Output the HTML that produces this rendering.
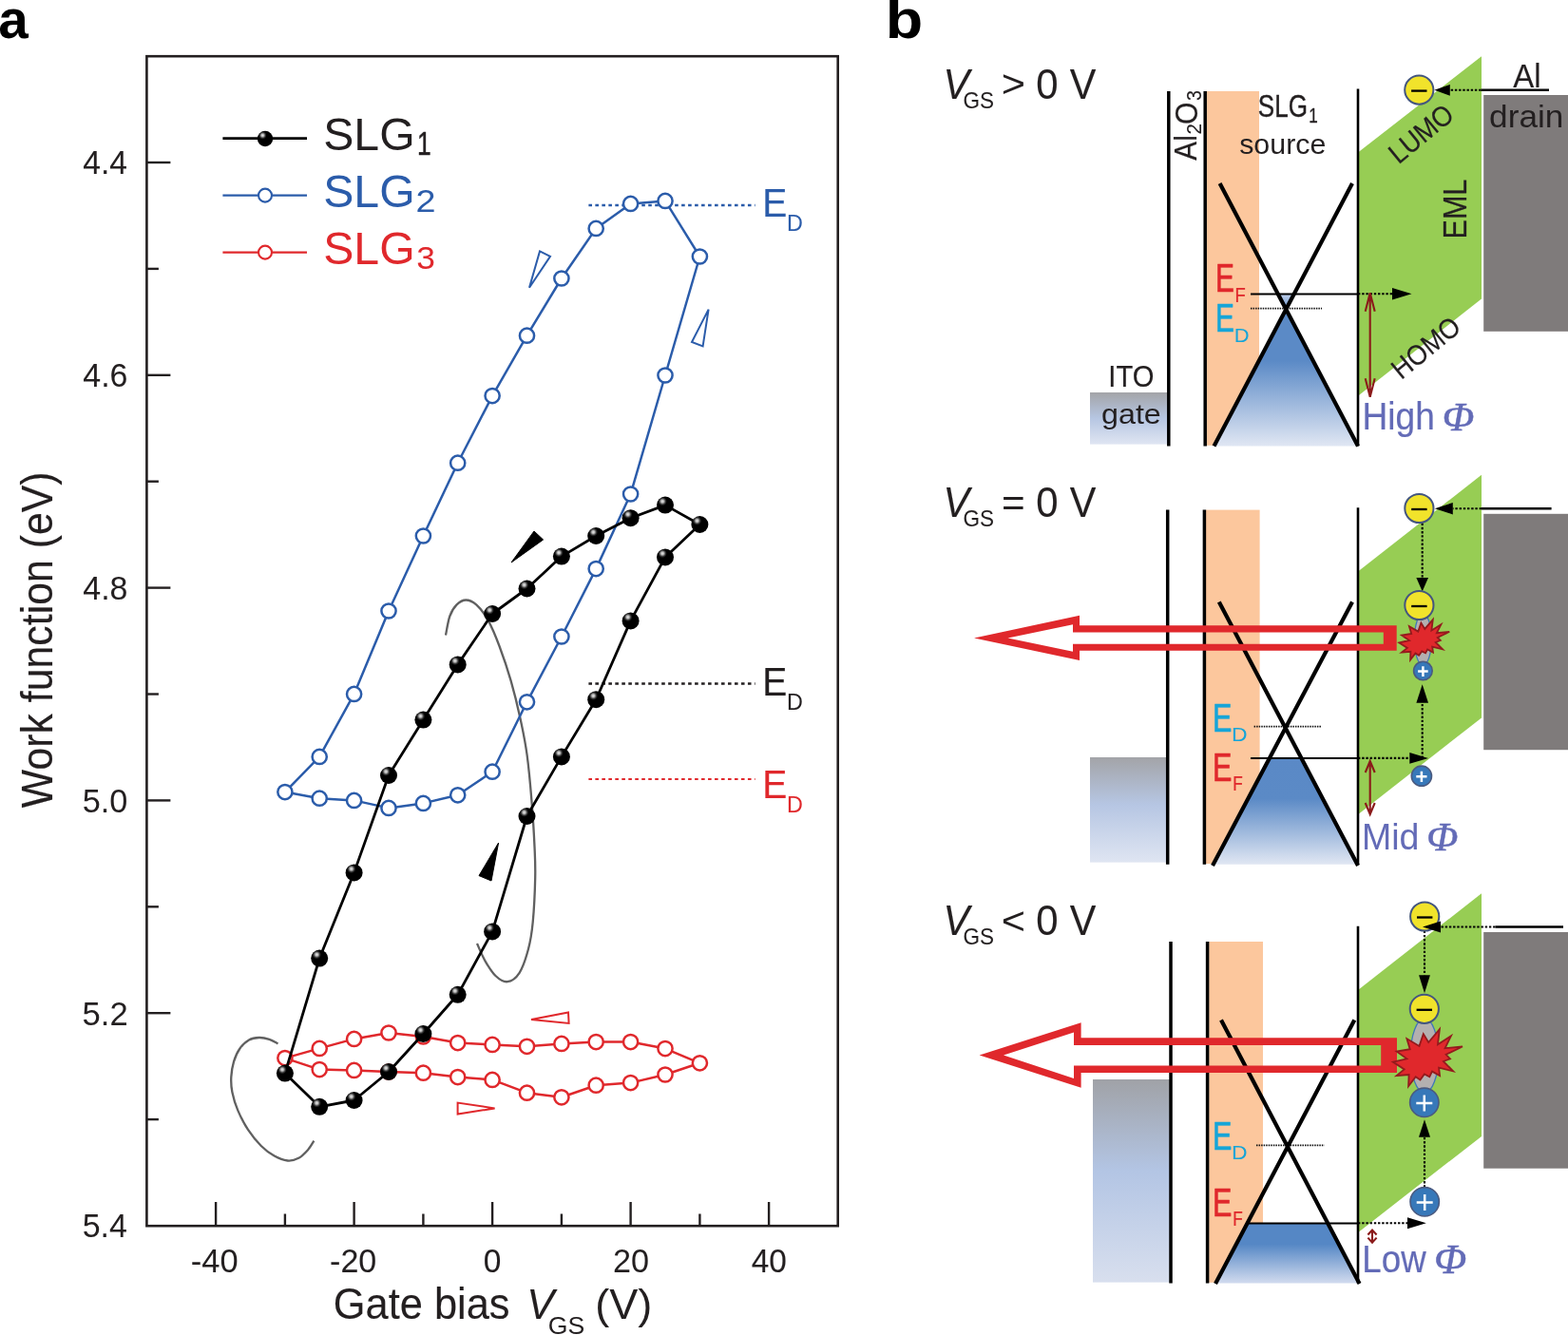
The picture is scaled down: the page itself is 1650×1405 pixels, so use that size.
<!DOCTYPE html>
<html lang="en">
<head>
<meta charset="utf-8">
<title>Work function vs gate bias and band diagrams</title>
<style>
html,body{margin:0;padding:0;background:#fff;}
body{width:1650px;height:1405px;overflow:hidden;}
svg{display:block;}
svg text{font-family:"Liberation Sans",sans-serif;}
svg text.ser{font-family:"Liberation Serif",serif;}
</style>
</head>
<body>
<svg width="1650" height="1405" viewBox="0 0 1650 1405">
<defs>
<radialGradient id="ball" cx="0.34" cy="0.28" r="0.26" fx="0.34" fy="0.28">
<stop offset="0" stop-color="#e6e6e6"/><stop offset="0.3" stop-color="#bdbdbd"/><stop offset="0.7" stop-color="#333"/><stop offset="1" stop-color="#000"/>
</radialGradient>
<linearGradient id="ito1" x1="0" y1="0" x2="0" y2="1"><stop offset="0" stop-color="#a3a4a8"/><stop offset="0.5" stop-color="#b6c6e2"/><stop offset="1" stop-color="#dfe5f2"/></linearGradient>
<linearGradient id="ito2" x1="0" y1="0" x2="0" y2="1"><stop offset="0" stop-color="#a3a4a8"/><stop offset="0.45" stop-color="#b6c6e3"/><stop offset="1" stop-color="#dfe5f2"/></linearGradient>
<linearGradient id="ito3" x1="0" y1="0" x2="0" y2="1"><stop offset="0" stop-color="#a0a2a7"/><stop offset="0.45" stop-color="#b3c5e4"/><stop offset="1" stop-color="#d8dfee"/></linearGradient>
<linearGradient id="cone1" gradientUnits="userSpaceOnUse" x1="0" y1="309" x2="0" y2="470"><stop offset="0" stop-color="#c3d2ec"/><stop offset="0.12" stop-color="#5b8ac6"/><stop offset="0.44" stop-color="#5b8ac6"/><stop offset="1" stop-color="#e1e7f3"/></linearGradient>
<linearGradient id="cone2" gradientUnits="userSpaceOnUse" x1="0" y1="798" x2="0" y2="910"><stop offset="0" stop-color="#5a89c6"/><stop offset="0.38" stop-color="#5b8ac6"/><stop offset="1" stop-color="#e1e7f3"/></linearGradient>
<linearGradient id="cone3" gradientUnits="userSpaceOnUse" x1="0" y1="1287" x2="0" y2="1351"><stop offset="0" stop-color="#5587c5"/><stop offset="0.35" stop-color="#5587c5"/><stop offset="1" stop-color="#d3dcef"/></linearGradient>
</defs>
<rect width="1650" height="1405" fill="#fff"/>
<g id="panel-a">
<path d="M469.0,668.6 C469.7,665.2 471.4,653.9 473.3,648.5 C475.2,643.1 477.8,639.2 480.6,636.4 C483.4,633.6 486.9,631.5 490.3,631.5 C493.7,631.5 497.4,633.0 501.2,636.4 C505.0,639.8 509.2,644.8 513.3,652.1 C517.3,659.4 521.5,669.3 525.5,680.0 C529.5,690.7 534.0,703.9 537.6,716.4 C541.2,728.9 544.5,742.3 547.3,755.2 C550.1,768.1 552.5,779.4 554.5,793.9 C556.5,808.4 558.1,826.2 559.4,842.4 C560.7,858.6 561.9,877.4 562.5,890.9 C563.1,904.4 563.5,910.2 563.2,923.5 C562.9,936.8 561.9,958.0 560.7,970.5 C559.5,983.0 558.4,989.8 556.0,998.7 C553.6,1007.6 550.3,1018.0 546.6,1023.8 C542.9,1029.5 538.2,1032.7 534.0,1033.2 C529.8,1033.7 525.4,1030.7 521.5,1027.0 C517.6,1023.4 513.8,1017.0 510.5,1011.3 C507.2,1005.6 503.4,996.0 502.0,993.0" fill="none" stroke="#606060" stroke-width="2.3"/>
<path d="M292.5,1098.4 C291.0,1097.7 286.7,1095.0 283.4,1093.9 C280.1,1092.8 276.3,1091.9 272.7,1092.0 C269.1,1092.1 265.4,1092.5 262.0,1094.4 C258.6,1096.3 255.1,1099.7 252.4,1103.5 C249.7,1107.3 247.5,1112.4 246.0,1117.4 C244.5,1122.4 243.6,1128.1 243.3,1133.4 C243.0,1138.7 243.2,1143.5 244.4,1149.4 C245.6,1155.3 247.5,1162.0 250.3,1168.6 C253.1,1175.2 256.9,1182.7 261.0,1188.9 C265.1,1195.1 270.2,1201.4 274.8,1206.0 C279.4,1210.6 284.1,1214.0 288.7,1216.6 C293.3,1219.2 298.3,1221.1 302.6,1221.5 C306.9,1221.9 310.7,1220.7 314.3,1218.8 C317.9,1216.9 321.3,1213.2 324.0,1210.2 C326.7,1207.2 329.3,1202.2 330.4,1200.6" fill="none" stroke="#606060" stroke-width="2.3"/>
<rect x="154.4" y="59.2" width="727.3" height="1231" fill="none" stroke="#231f20" stroke-width="2.6"/>
<line x1="154.4" x2="179.4" y1="171.0" y2="171.0" stroke="#231f20" stroke-width="2.4"/>
<line x1="154.4" x2="166.9" y1="282.9" y2="282.9" stroke="#231f20" stroke-width="2.4"/>
<line x1="154.4" x2="179.4" y1="394.8" y2="394.8" stroke="#231f20" stroke-width="2.4"/>
<line x1="154.4" x2="166.9" y1="506.7" y2="506.7" stroke="#231f20" stroke-width="2.4"/>
<line x1="154.4" x2="179.4" y1="618.6" y2="618.6" stroke="#231f20" stroke-width="2.4"/>
<line x1="154.4" x2="166.9" y1="730.5" y2="730.5" stroke="#231f20" stroke-width="2.4"/>
<line x1="154.4" x2="179.4" y1="842.4" y2="842.4" stroke="#231f20" stroke-width="2.4"/>
<line x1="154.4" x2="166.9" y1="954.3" y2="954.3" stroke="#231f20" stroke-width="2.4"/>
<line x1="154.4" x2="179.4" y1="1066.2" y2="1066.2" stroke="#231f20" stroke-width="2.4"/>
<line x1="154.4" x2="166.9" y1="1178.1" y2="1178.1" stroke="#231f20" stroke-width="2.4"/>
<line x1="227.1" x2="227.1" y1="1290" y2="1265.0" stroke="#231f20" stroke-width="2.4"/>
<line x1="299.9" x2="299.9" y1="1290" y2="1277.5" stroke="#231f20" stroke-width="2.4"/>
<line x1="372.6" x2="372.6" y1="1290" y2="1265.0" stroke="#231f20" stroke-width="2.4"/>
<line x1="445.4" x2="445.4" y1="1290" y2="1277.5" stroke="#231f20" stroke-width="2.4"/>
<line x1="518.1" x2="518.1" y1="1290" y2="1265.0" stroke="#231f20" stroke-width="2.4"/>
<line x1="590.9" x2="590.9" y1="1290" y2="1277.5" stroke="#231f20" stroke-width="2.4"/>
<line x1="663.6" x2="663.6" y1="1290" y2="1265.0" stroke="#231f20" stroke-width="2.4"/>
<line x1="736.4" x2="736.4" y1="1290" y2="1277.5" stroke="#231f20" stroke-width="2.4"/>
<line x1="809.1" x2="809.1" y1="1290" y2="1265.0" stroke="#231f20" stroke-width="2.4"/>
<text transform="translate(88.00,183.40) scale(0.9580,1)" x="-0.79" y="0" font-size="35.05" fill="#231f20" stroke="#231f20" stroke-width="0.08" vector-effect="non-scaling-stroke" stroke-linejoin="round">4.4</text>
<text transform="translate(88.00,407.20) scale(0.9688,1)" x="-0.79" y="0" font-size="35.05" fill="#231f20" stroke="#231f20" stroke-width="0.06" vector-effect="non-scaling-stroke" stroke-linejoin="round">4.6</text>
<text transform="translate(88.00,631.00) scale(0.9688,1)" x="-0.79" y="0" font-size="35.05" fill="#231f20" stroke="#231f20" stroke-width="0.06" vector-effect="non-scaling-stroke" stroke-linejoin="round">4.8</text>
<text transform="translate(88.00,854.80) scale(0.9781,1)" x="-1.40" y="0" font-size="35.05" fill="#231f20">5.0</text>
<text transform="translate(88.00,1078.60) scale(0.9875,1)" x="-1.40" y="0" font-size="35.05" fill="#231f20">5.2</text>
<text transform="translate(88.00,1302.40) scale(0.9707,1)" x="-1.40" y="0" font-size="35.05" fill="#231f20">5.4</text>
<text transform="translate(202.40,1339.40) scale(0.9800,1)" x="-1.58" y="0" font-size="35.20" fill="#231f20">-40</text>
<text transform="translate(348.60,1339.40) scale(0.9675,1)" x="-1.58" y="0" font-size="35.20" fill="#231f20" stroke="#231f20" stroke-width="0.06" vector-effect="non-scaling-stroke" stroke-linejoin="round">-20</text>
<text transform="translate(510.00,1339.40) scale(0.9519,1)" x="-1.41" y="0" font-size="35.20" fill="#231f20" stroke="#231f20" stroke-width="0.09" vector-effect="non-scaling-stroke" stroke-linejoin="round">0</text>
<text transform="translate(646.60,1339.40) scale(0.9724,1)" x="-1.76" y="0" font-size="35.20" fill="#231f20">20</text>
<text transform="translate(791.40,1339.40) scale(0.9470,1)" x="-0.79" y="0" font-size="35.20" fill="#231f20" stroke="#231f20" stroke-width="0.10" vector-effect="non-scaling-stroke" stroke-linejoin="round">40</text>
<text transform="translate(55.20,850.00) rotate(-90) scale(0.9410,1)" x="-0.23" y="0" font-size="45.53" fill="#231f20" stroke="#231f20" stroke-width="0.15" vector-effect="non-scaling-stroke" stroke-linejoin="round">Work function (eV)</text>
<text transform="translate(353.00,1387.60) scale(0.9576,1)" x="-2.27" y="0" font-size="45.30" fill="#231f20" stroke="#231f20" stroke-width="0.11" vector-effect="non-scaling-stroke" stroke-linejoin="round">Gate bias</text>
<text transform="translate(558.00,1388.00) scale(0.9647,1)" x="-3.95" y="0" font-size="45.09" fill="#231f20" font-style="italic" stroke="#231f20" stroke-width="0.09" vector-effect="non-scaling-stroke" stroke-linejoin="round">V</text>
<text transform="translate(578.00,1403.60) scale(1.0568,1)" x="-1.26" y="0" font-size="25.23" fill="#231f20">GS</text>
<text transform="translate(629.00,1388.00) scale(1.0007,1)" x="-2.82" y="0" font-size="45.09" fill="#231f20">(V)</text>
<line x1="619.4" x2="794.6" y1="215.9" y2="215.9" stroke="#2b5caa" stroke-width="2.5" stroke-dasharray="3.6 3.38"/>
<line x1="619.4" x2="794.6" y1="719.4" y2="719.4" stroke="#231f20" stroke-width="2.5" stroke-dasharray="3.6 3.38"/>
<line x1="619.4" x2="794.6" y1="820" y2="820" stroke="#e0282c" stroke-width="2.2" stroke-dasharray="3.6 3.38"/>
<polygon points="299.9,1113.6 336.2,1103.4 372.6,1093.4 409.0,1087.0 445.4,1091.0 481.7,1097.6 518.1,1099.4 554.5,1101.3 590.9,1098.4 627.2,1096.6 663.6,1096.6 700.0,1103.6 736.4,1118.8 700.0,1131.0 663.6,1139.6 627.2,1142.2 590.9,1154.8 554.5,1150.2 518.1,1136.4 481.7,1133.6 445.4,1129.2 409.0,1128.0 372.6,1126.4 336.2,1125.6" fill="none" stroke="#e0282c" stroke-width="2.5" stroke-linejoin="round"/>
<circle cx="299.9" cy="1113.6" r="7.6" fill="#fff" stroke="#e0282c" stroke-width="2.5"/>
<circle cx="336.2" cy="1103.4" r="7.6" fill="#fff" stroke="#e0282c" stroke-width="2.5"/>
<circle cx="372.6" cy="1093.4" r="7.6" fill="#fff" stroke="#e0282c" stroke-width="2.5"/>
<circle cx="409.0" cy="1087.0" r="7.6" fill="#fff" stroke="#e0282c" stroke-width="2.5"/>
<circle cx="445.4" cy="1091.0" r="7.6" fill="#fff" stroke="#e0282c" stroke-width="2.5"/>
<circle cx="481.7" cy="1097.6" r="7.6" fill="#fff" stroke="#e0282c" stroke-width="2.5"/>
<circle cx="518.1" cy="1099.4" r="7.6" fill="#fff" stroke="#e0282c" stroke-width="2.5"/>
<circle cx="554.5" cy="1101.3" r="7.6" fill="#fff" stroke="#e0282c" stroke-width="2.5"/>
<circle cx="590.9" cy="1098.4" r="7.6" fill="#fff" stroke="#e0282c" stroke-width="2.5"/>
<circle cx="627.2" cy="1096.6" r="7.6" fill="#fff" stroke="#e0282c" stroke-width="2.5"/>
<circle cx="663.6" cy="1096.6" r="7.6" fill="#fff" stroke="#e0282c" stroke-width="2.5"/>
<circle cx="700.0" cy="1103.6" r="7.6" fill="#fff" stroke="#e0282c" stroke-width="2.5"/>
<circle cx="736.4" cy="1118.8" r="7.6" fill="#fff" stroke="#e0282c" stroke-width="2.5"/>
<circle cx="700.0" cy="1131.0" r="7.6" fill="#fff" stroke="#e0282c" stroke-width="2.5"/>
<circle cx="663.6" cy="1139.6" r="7.6" fill="#fff" stroke="#e0282c" stroke-width="2.5"/>
<circle cx="627.2" cy="1142.2" r="7.6" fill="#fff" stroke="#e0282c" stroke-width="2.5"/>
<circle cx="590.9" cy="1154.8" r="7.6" fill="#fff" stroke="#e0282c" stroke-width="2.5"/>
<circle cx="554.5" cy="1150.2" r="7.6" fill="#fff" stroke="#e0282c" stroke-width="2.5"/>
<circle cx="518.1" cy="1136.4" r="7.6" fill="#fff" stroke="#e0282c" stroke-width="2.5"/>
<circle cx="481.7" cy="1133.6" r="7.6" fill="#fff" stroke="#e0282c" stroke-width="2.5"/>
<circle cx="445.4" cy="1129.2" r="7.6" fill="#fff" stroke="#e0282c" stroke-width="2.5"/>
<circle cx="409.0" cy="1128.0" r="7.6" fill="#fff" stroke="#e0282c" stroke-width="2.5"/>
<circle cx="372.6" cy="1126.4" r="7.6" fill="#fff" stroke="#e0282c" stroke-width="2.5"/>
<circle cx="336.2" cy="1125.6" r="7.6" fill="#fff" stroke="#e0282c" stroke-width="2.5"/>
<polygon points="299.9,833.6 336.2,796.4 372.6,730.4 409.0,643.0 445.4,564.0 481.7,487.2 518.1,416.6 554.5,353.2 590.9,293.0 627.2,240.4 663.6,214.4 700.0,211.4 736.4,270.0 700.0,395.0 663.6,520.0 627.2,598.6 590.9,670.0 554.5,738.8 518.1,812.2 481.7,836.8 445.4,845.4 409.0,850.4 372.6,842.4 336.2,840.2" fill="none" stroke="#2b5caa" stroke-width="2.5" stroke-linejoin="round"/>
<circle cx="299.9" cy="833.6" r="7.6" fill="#fff" stroke="#2b5caa" stroke-width="2.5"/>
<circle cx="336.2" cy="796.4" r="7.6" fill="#fff" stroke="#2b5caa" stroke-width="2.5"/>
<circle cx="372.6" cy="730.4" r="7.6" fill="#fff" stroke="#2b5caa" stroke-width="2.5"/>
<circle cx="409.0" cy="643.0" r="7.6" fill="#fff" stroke="#2b5caa" stroke-width="2.5"/>
<circle cx="445.4" cy="564.0" r="7.6" fill="#fff" stroke="#2b5caa" stroke-width="2.5"/>
<circle cx="481.7" cy="487.2" r="7.6" fill="#fff" stroke="#2b5caa" stroke-width="2.5"/>
<circle cx="518.1" cy="416.6" r="7.6" fill="#fff" stroke="#2b5caa" stroke-width="2.5"/>
<circle cx="554.5" cy="353.2" r="7.6" fill="#fff" stroke="#2b5caa" stroke-width="2.5"/>
<circle cx="590.9" cy="293.0" r="7.6" fill="#fff" stroke="#2b5caa" stroke-width="2.5"/>
<circle cx="627.2" cy="240.4" r="7.6" fill="#fff" stroke="#2b5caa" stroke-width="2.5"/>
<circle cx="663.6" cy="214.4" r="7.6" fill="#fff" stroke="#2b5caa" stroke-width="2.5"/>
<circle cx="700.0" cy="211.4" r="7.6" fill="#fff" stroke="#2b5caa" stroke-width="2.5"/>
<circle cx="736.4" cy="270.0" r="7.6" fill="#fff" stroke="#2b5caa" stroke-width="2.5"/>
<circle cx="700.0" cy="395.0" r="7.6" fill="#fff" stroke="#2b5caa" stroke-width="2.5"/>
<circle cx="663.6" cy="520.0" r="7.6" fill="#fff" stroke="#2b5caa" stroke-width="2.5"/>
<circle cx="627.2" cy="598.6" r="7.6" fill="#fff" stroke="#2b5caa" stroke-width="2.5"/>
<circle cx="590.9" cy="670.0" r="7.6" fill="#fff" stroke="#2b5caa" stroke-width="2.5"/>
<circle cx="554.5" cy="738.8" r="7.6" fill="#fff" stroke="#2b5caa" stroke-width="2.5"/>
<circle cx="518.1" cy="812.2" r="7.6" fill="#fff" stroke="#2b5caa" stroke-width="2.5"/>
<circle cx="481.7" cy="836.8" r="7.6" fill="#fff" stroke="#2b5caa" stroke-width="2.5"/>
<circle cx="445.4" cy="845.4" r="7.6" fill="#fff" stroke="#2b5caa" stroke-width="2.5"/>
<circle cx="409.0" cy="850.4" r="7.6" fill="#fff" stroke="#2b5caa" stroke-width="2.5"/>
<circle cx="372.6" cy="842.4" r="7.6" fill="#fff" stroke="#2b5caa" stroke-width="2.5"/>
<circle cx="336.2" cy="840.2" r="7.6" fill="#fff" stroke="#2b5caa" stroke-width="2.5"/>
<polygon points="299.9,1129.6 336.2,1008.6 372.6,918.4 409.0,816.0 445.4,757.6 481.7,699.4 518.1,646.0 554.5,619.5 590.9,585.6 627.2,564.0 663.6,545.2 700.0,531.6 736.4,552.0 700.0,586.4 663.6,653.4 627.2,736.2 590.9,796.4 554.5,859.0 518.1,980.4 481.7,1046.8 445.4,1088.0 409.0,1128.0 372.6,1158.0 336.2,1164.8" fill="none" stroke="#000" stroke-width="2.8" stroke-linejoin="round"/>
<circle cx="299.9" cy="1129.6" r="9" fill="url(#ball)"/>
<circle cx="336.2" cy="1008.6" r="9" fill="url(#ball)"/>
<circle cx="372.6" cy="918.4" r="9" fill="url(#ball)"/>
<circle cx="409.0" cy="816.0" r="9" fill="url(#ball)"/>
<circle cx="445.4" cy="757.6" r="9" fill="url(#ball)"/>
<circle cx="481.7" cy="699.4" r="9" fill="url(#ball)"/>
<circle cx="518.1" cy="646.0" r="9" fill="url(#ball)"/>
<circle cx="554.5" cy="619.5" r="9" fill="url(#ball)"/>
<circle cx="590.9" cy="585.6" r="9" fill="url(#ball)"/>
<circle cx="627.2" cy="564.0" r="9" fill="url(#ball)"/>
<circle cx="663.6" cy="545.2" r="9" fill="url(#ball)"/>
<circle cx="700.0" cy="531.6" r="9" fill="url(#ball)"/>
<circle cx="736.4" cy="552.0" r="9" fill="url(#ball)"/>
<circle cx="700.0" cy="586.4" r="9" fill="url(#ball)"/>
<circle cx="663.6" cy="653.4" r="9" fill="url(#ball)"/>
<circle cx="627.2" cy="736.2" r="9" fill="url(#ball)"/>
<circle cx="590.9" cy="796.4" r="9" fill="url(#ball)"/>
<circle cx="554.5" cy="859.0" r="9" fill="url(#ball)"/>
<circle cx="518.1" cy="980.4" r="9" fill="url(#ball)"/>
<circle cx="481.7" cy="1046.8" r="9" fill="url(#ball)"/>
<circle cx="445.4" cy="1088.0" r="9" fill="url(#ball)"/>
<circle cx="409.0" cy="1128.0" r="9" fill="url(#ball)"/>
<circle cx="372.6" cy="1158.0" r="9" fill="url(#ball)"/>
<circle cx="336.2" cy="1164.8" r="9" fill="url(#ball)"/>
<polygon points="568,264.4 579,269.8 557,302.8" fill="#fff" stroke="#2b5caa" stroke-width="2"/>
<polygon points="745.6,325.6 728,360 739.6,364.4" fill="#fff" stroke="#2b5caa" stroke-width="2"/>
<polygon points="562,559 571.6,568 538,592" fill="#000" stroke="#000" stroke-width="1"/>
<polygon points="524.6,887 504,921.6 517,927" fill="#000" stroke="#000" stroke-width="1"/>
<polygon points="559,1073 598,1065.4 598.6,1077" fill="#fff" stroke="#e0282c" stroke-width="2"/>
<polygon points="481.6,1160.6 481.6,1172.6 520.6,1166.4" fill="#fff" stroke="#e0282c" stroke-width="2"/>
<text transform="translate(805.50,227.90) scale(0.9361,1)" x="-3.44" y="0" font-size="41.75" fill="#2b5caa" stroke="#2b5caa" stroke-width="0.15" vector-effect="non-scaling-stroke" stroke-linejoin="round">E</text>
<text transform="translate(829.80,242.90) scale(0.9588,1)" x="-2.00" y="0" font-size="24.29" fill="#2b5caa" stroke="#2b5caa" stroke-width="0.06" vector-effect="non-scaling-stroke" stroke-linejoin="round">D</text>
<text transform="translate(805.50,731.70) scale(0.9361,1)" x="-3.44" y="0" font-size="41.75" fill="#231f20" stroke="#231f20" stroke-width="0.15" vector-effect="non-scaling-stroke" stroke-linejoin="round">E</text>
<text transform="translate(829.80,746.70) scale(0.9588,1)" x="-2.00" y="0" font-size="24.29" fill="#231f20" stroke="#231f20" stroke-width="0.06" vector-effect="non-scaling-stroke" stroke-linejoin="round">D</text>
<text transform="translate(805.50,840.30) scale(0.9361,1)" x="-3.44" y="0" font-size="41.75" fill="#e0282c" stroke="#e0282c" stroke-width="0.15" vector-effect="non-scaling-stroke" stroke-linejoin="round">E</text>
<text transform="translate(829.80,855.30) scale(0.9588,1)" x="-2.00" y="0" font-size="24.29" fill="#e0282c" stroke="#e0282c" stroke-width="0.06" vector-effect="non-scaling-stroke" stroke-linejoin="round">D</text>
<line x1="234.4" x2="323" y1="145.6" y2="145.6" stroke="#000" stroke-width="2.6"/>
<circle cx="279" cy="146.0" r="8.2" fill="url(#ball)"/>
<text transform="translate(342.40,158.20) scale(0.9945,1)" x="-2.18" y="0" font-size="48.46" fill="#231f20">SLG</text>
<text transform="translate(441.00,162.60) scale(0.7427,1)" x="-2.66" y="0" font-size="35.49" fill="#231f20" stroke="#231f20" stroke-width="0.50" vector-effect="non-scaling-stroke" stroke-linejoin="round">1</text>
<line x1="234.4" x2="323" y1="205.6" y2="205.6" stroke="#2b5caa" stroke-width="2.1"/>
<circle cx="279" cy="205.6" r="7" fill="#fff" stroke="#2b5caa" stroke-width="2.1"/>
<text transform="translate(342.40,218.20) scale(0.9945,1)" x="-2.18" y="0" font-size="48.46" fill="#2b5caa">SLG</text>
<text transform="translate(439.40,222.60) scale(1.1268,1)" x="-1.68" y="0" font-size="33.55" fill="#2b5caa">2</text>
<line x1="234.4" x2="323" y1="265.6" y2="265.6" stroke="#e0282c" stroke-width="2.1"/>
<circle cx="279" cy="265.6" r="7" fill="#fff" stroke="#e0282c" stroke-width="2.1"/>
<text transform="translate(342.40,278.20) scale(0.9945,1)" x="-2.18" y="0" font-size="48.46" fill="#e0282c">SLG</text>
<text transform="translate(439.60,282.60) scale(1.0543,1)" x="-1.26" y="0" font-size="33.55" fill="#e0282c">3</text>
<text transform="translate(0.00,39.60) scale(1.0027,1)" x="-1.70" y="0" font-size="56.56" fill="#000" font-weight="bold">a</text>
</g>
<g id="panel-b">
<text transform="translate(936.00,39.50) scale(1.1376,1)" x="-3.69" y="0" font-size="56.74" fill="#000" font-weight="bold">b</text>
<rect x="1147" y="413" width="82.8" height="54.6" fill="url(#ito1)"/>
<rect x="1269.8" y="96" width="55.2" height="372.8" fill="#fcc79d"/>
<polygon points="1429.6,160 1559,59.2 1559,314.6 1429.6,416.2" fill="#97cd54"/>
<rect x="1561.2" y="100" width="90" height="248.8" fill="#7f7b7b"/>
<polygon points="1345.0,309.4 1361.1,309.4 1353,324.6 1429,469.6 1277.5,469.6 1353,324.6" fill="url(#cone1)"/>
<line x1="1316" x2="1391" y1="324.6" y2="324.6" stroke="#111" stroke-width="1.7" stroke-dasharray="1.5 1.05"/>
<line x1="1316" x2="1429" y1="309.4" y2="309.4" stroke="#000" stroke-width="2"/>
<path d="M1283.6,193L1429,469.6M1423,193L1277.5,469.6" stroke="#000" stroke-width="4.2" fill="none"/>
<line x1="1229.8" x2="1229.8" y1="96" y2="469.6" stroke="#000" stroke-width="3.5"/>
<line x1="1268.2" x2="1268.2" y1="96" y2="469.6" stroke="#000" stroke-width="3.5"/>
<line x1="1429" x2="1429" y1="93.6" y2="469.6" stroke="#000" stroke-width="2.6"/>
<line x1="1429" x2="1465" y1="309.3" y2="309.3" stroke="#000" stroke-width="2.1" stroke-dasharray="2.4 1.8"/>
<polygon points="1485.5,309.3 1465,303.1 1465,315.5" fill="#000"/>
<path d="M1441.7,309.0V417.0M1436.7,327.7L1441.7,308.2L1446.7,327.7M1436.7,398.3L1441.7,417.8L1446.7,398.3" fill="none" stroke="#8b1a1a" stroke-width="2.1" stroke-linejoin="miter"/>
<circle cx="1493.3" cy="94.6" r="15.1" fill="#f1e32b" stroke="#44567f" stroke-width="2"/>
<line x1="1485.1" x2="1501.5" y1="95.6" y2="95.6" stroke="#000" stroke-width="2.3"/>
<line x1="1558.5" x2="1525.8" y1="94.8" y2="94.8" stroke="#000" stroke-width="2.1" stroke-dasharray="2.4 1.8"/>
<polygon points="1509.4,94.8 1525.8,88.89999999999999 1525.8,100.7" fill="#000"/>
<line x1="1558.5" x2="1630" y1="94.8" y2="94.8" stroke="#000" stroke-width="2.6"/>
<text transform="translate(996.00,104.40) scale(0.9356,1)" x="-3.87" y="0" font-size="44.22" fill="#231f20" font-style="italic" stroke="#231f20" stroke-width="0.16" vector-effect="non-scaling-stroke" stroke-linejoin="round">V</text>
<text transform="translate(1014.60,113.70) scale(0.9462,1)" x="-1.19" y="0" font-size="23.80" fill="#231f20" stroke="#231f20" stroke-width="0.07" vector-effect="non-scaling-stroke" stroke-linejoin="round">GS</text>
<text transform="translate(1056.00,102.41) scale(1.0772,1)" x="-2.01" y="0" font-size="40.20" fill="#231f20">&gt;</text>
<text transform="translate(1092.00,104.40) scale(0.9410,1)" x="-1.78" y="0" font-size="44.51" fill="#231f20" stroke="#231f20" stroke-width="0.14" vector-effect="non-scaling-stroke" stroke-linejoin="round">0</text>
<text transform="translate(1126.00,104.40) scale(0.9356,1)" x="-0.22" y="0" font-size="44.22" fill="#231f20" stroke="#231f20" stroke-width="0.16" vector-effect="non-scaling-stroke" stroke-linejoin="round">V</text>
<text transform="translate(1325.00,123.00) scale(0.7904,1)" x="-1.48" y="0" font-size="32.97" fill="#231f20" stroke="#231f20" stroke-width="0.38" vector-effect="non-scaling-stroke" stroke-linejoin="round">SLG</text>
<text transform="translate(1378.60,128.60) scale(0.7540,1)" x="-1.70" y="0" font-size="22.69" fill="#231f20" stroke="#231f20" stroke-width="0.31" vector-effect="non-scaling-stroke" stroke-linejoin="round">1</text>
<text transform="translate(1305.00,162.00) scale(1.0016,1)" x="-0.83" y="0" font-size="30.33" fill="#231f20">source</text>
<text transform="translate(1259.30,168.60) rotate(-90) scale(0.8933,1)" x="-0.08" y="0" font-size="33.31" fill="#231f20" stroke="#231f20" stroke-width="0.20" vector-effect="non-scaling-stroke" stroke-linejoin="round">Al</text>
<text transform="translate(1264.20,140.60) rotate(-90) scale(0.9480,1)" x="-1.09" y="0" font-size="21.79" fill="#231f20" stroke="#231f20" stroke-width="0.06" vector-effect="non-scaling-stroke" stroke-linejoin="round">2</text>
<text transform="translate(1259.60,129.50) rotate(-90) scale(0.8997,1)" x="-1.59" y="0" font-size="33.55" fill="#231f20" stroke="#231f20" stroke-width="0.19" vector-effect="non-scaling-stroke" stroke-linejoin="round">O</text>
<text transform="translate(1264.40,105.20) rotate(-90) scale(0.8868,1)" x="-0.83" y="0" font-size="22.08" fill="#231f20" stroke="#231f20" stroke-width="0.14" vector-effect="non-scaling-stroke" stroke-linejoin="round">3</text>
<text transform="translate(1592.40,92.10) scale(0.9240,1)" x="-0.09" y="0" font-size="35.64" fill="#231f20" stroke="#231f20" stroke-width="0.15" vector-effect="non-scaling-stroke" stroke-linejoin="round">Al</text>
<text transform="translate(1568.60,134.20) scale(1.0341,1)" x="-1.45" y="0" font-size="34.07" fill="#231f20">drain</text>
<text transform="translate(1169.00,406.60) scale(0.9088,1)" x="-2.97" y="0" font-size="32.11" fill="#231f20" stroke="#231f20" stroke-width="0.16" vector-effect="non-scaling-stroke" stroke-linejoin="round">ITO</text>
<text transform="translate(1160.40,446.00) scale(1.0637,1)" x="-1.29" y="0" font-size="30.33" fill="#231f20">gate</text>
<text transform="translate(1473.40,172.00) rotate(-39.5) scale(0.9021,1)" x="-2.47" y="0" font-size="29.96" fill="#231f20" stroke="#231f20" stroke-width="0.16" vector-effect="non-scaling-stroke" stroke-linejoin="round">LUMO</text>
<text transform="translate(1476.30,398.80) rotate(-39.5) scale(0.9047,1)" x="-2.45" y="0" font-size="29.67" fill="#231f20" stroke="#231f20" stroke-width="0.16" vector-effect="non-scaling-stroke" stroke-linejoin="round">HOMO</text>
<text transform="translate(1542.50,249.00) rotate(-90) scale(0.8627,1)" x="-2.93" y="0" font-size="35.49" fill="#231f20" stroke="#231f20" stroke-width="0.27" vector-effect="non-scaling-stroke" stroke-linejoin="round">EML</text>
<text transform="translate(1281.40,307.40) scale(0.7128,1)" x="-3.46" y="0" font-size="41.89" fill="#e0282c" stroke="#e0282c" stroke-width="0.60" vector-effect="non-scaling-stroke" stroke-linejoin="round">E</text>
<text transform="translate(1301.00,318.00) scale(0.8462,1)" x="-1.80" y="0" font-size="21.82" fill="#e0282c" stroke="#e0282c" stroke-width="0.19" vector-effect="non-scaling-stroke" stroke-linejoin="round">F</text>
<text transform="translate(1281.40,349.40) scale(0.7079,1)" x="-3.48" y="0" font-size="42.18" fill="#16a5d8" stroke="#16a5d8" stroke-width="0.60" vector-effect="non-scaling-stroke" stroke-linejoin="round">E</text>
<text transform="translate(1300.60,360.00) scale(1.0475,1)" x="-1.73" y="0" font-size="20.95" fill="#16a5d8">D</text>
<text transform="translate(1436.60,452.20) scale(0.9213,1)" x="-3.32" y="0" font-size="40.29" fill="#636bb7" stroke="#636bb7" stroke-width="0.18" vector-effect="non-scaling-stroke" stroke-linejoin="round">High</text>
<text transform="translate(1520.00,453.00) scale(1.0313,1)" x="-2.14" y="0" font-size="42.75" fill="#636bb7" font-style="italic" class="ser" stroke="#636bb7" stroke-width="0.50" vector-effect="non-scaling-stroke" stroke-linejoin="round">Φ</text>
<rect x="1147" y="797" width="81.7" height="110.6" fill="url(#ito2)"/>
<rect x="1269" y="536.6" width="56.6" height="372.4" fill="#fcc79d"/>
<polygon points="1429.6,601 1559,499.8 1559,755.5 1429.6,856.7" fill="#97cd54"/>
<rect x="1561.2" y="540.8" width="90" height="248.4" fill="#7f7b7b"/>
<polygon points="1335.0,798 1369.9,798 1429,909.8 1276,909.8" fill="url(#cone2)"/>
<line x1="1319.6" x2="1391" y1="764.6" y2="764.6" stroke="#111" stroke-width="1.7" stroke-dasharray="1.5 1.05"/>
<line x1="1316" x2="1429" y1="798" y2="798" stroke="#000" stroke-width="2"/>
<path d="M1282.8,633.5L1429,911M1423,633.5L1276,911" stroke="#000" stroke-width="4.2" fill="none"/>
<line x1="1228.7" x2="1228.7" y1="536.6" y2="909.8" stroke="#000" stroke-width="3.5"/>
<line x1="1267.4" x2="1267.4" y1="536.6" y2="909.8" stroke="#000" stroke-width="3.5"/>
<line x1="1429" x2="1429" y1="534.2" y2="909.8" stroke="#000" stroke-width="2.6"/>
<line x1="1429" x2="1483.3" y1="797.9" y2="797.9" stroke="#000" stroke-width="2.1" stroke-dasharray="2.4 1.8"/>
<polygon points="1503,797.9 1483.3,792.0 1483.3,803.8" fill="#000"/>
<path d="M1441.7,801.8V856.2M1436.7,813.0L1441.7,801.0L1446.7,813.0M1436.7,845.0L1441.7,857.0L1446.7,845.0" fill="none" stroke="#8b1a1a" stroke-width="2.1" stroke-linejoin="miter"/>
<ellipse cx="1497.4" cy="673" rx="9" ry="27" fill="#b4b0b0" stroke="#3f78b8" stroke-width="1.3"/>
<line x1="1496.7" x2="1496.7" y1="550.6" y2="607.9" stroke="#000" stroke-width="2.1" stroke-dasharray="2.4 1.8"/>
<polygon points="1496.7,622.6 1490.4,607.9 1503.0,607.9" fill="#000"/>
<line x1="1496.7" x2="1496.7" y1="797.9" y2="739.7" stroke="#000" stroke-width="2.1" stroke-dasharray="2.4 1.8"/>
<polygon points="1496.7,720.3 1490.4,739.7 1503.0,739.7" fill="#000"/>
<circle cx="1493.4" cy="535" r="15.1" fill="#f1e32b" stroke="#44567f" stroke-width="2"/>
<line x1="1485.2" x2="1501.6" y1="536.0" y2="536.0" stroke="#000" stroke-width="2.3"/>
<circle cx="1493.4" cy="637" r="15.1" fill="#f1e32b" stroke="#44567f" stroke-width="2"/>
<line x1="1485.2" x2="1501.6" y1="638.0" y2="638.0" stroke="#000" stroke-width="2.3"/>
<line x1="1559" x2="1528.8" y1="535.2" y2="535.2" stroke="#000" stroke-width="2.1" stroke-dasharray="2.4 1.8"/>
<polygon points="1509.8,535.2 1528.8,529.0 1528.8,541.4000000000001" fill="#000"/>
<line x1="1559" x2="1632.6" y1="535.2" y2="535.2" stroke="#000" stroke-width="2.6"/>
<circle cx="1497.4" cy="706" r="9.8" fill="#3778b9" stroke="#4a5a80" stroke-width="1.6"/>
<path d="M1492.1,706.6H1502.7M1497.4,701.3V711.9" stroke="#fff" stroke-width="2.5" fill="none"/>
<circle cx="1495.9" cy="816.7" r="10.6" fill="#3778b9" stroke="#4a5a80" stroke-width="1.6"/>
<path d="M1490.3,817.3H1501.5M1495.9,811.7V822.9" stroke="#fff" stroke-width="2.5" fill="none"/>
<path d="M1025,671.4 L1136,647.8 L1136,658.3 L1469.7,658.3 L1469.7,684.8 L1136,684.8 L1136,695.0 Z M1060.5,671.4 L1129,657.2 L1129,665.6 L1455.8,665.6 L1455.8,677.8 L1129,677.8 L1129,685.8 Z" fill="#e0282c" fill-rule="evenodd"/>
<polygon points="1507.8,652.1 1506.4,663.5 1516.4,657.2 1511.9,666.2 1525.2,665.0 1512.7,670.9 1515.8,674.0 1510.7,676.0 1518.1,683.3 1507.2,680.7 1508.0,686.6 1502.1,683.4 1500.1,687.4 1496.2,685.4 1493.1,689.7 1489.5,687.4 1484.1,694.4 1484.4,685.8 1475.0,686.6 1480.9,681.9 1472.3,676.4 1482.9,674.0 1475.0,668.5 1485.2,667.0 1482.9,659.1 1492.3,664.6 1495.4,655.6 1499.3,661.9" fill="#e0282c" stroke="#931a1d" stroke-width="1.8" stroke-linejoin="miter"/>
<text transform="translate(996.00,544.40) scale(0.9356,1)" x="-3.87" y="0" font-size="44.22" fill="#231f20" font-style="italic" stroke="#231f20" stroke-width="0.16" vector-effect="non-scaling-stroke" stroke-linejoin="round">V</text>
<text transform="translate(1014.60,553.70) scale(0.9462,1)" x="-1.19" y="0" font-size="23.80" fill="#231f20" stroke="#231f20" stroke-width="0.07" vector-effect="non-scaling-stroke" stroke-linejoin="round">GS</text>
<text transform="translate(1056.00,543.36) scale(1.0170,1)" x="-1.97" y="0" font-size="41.55" fill="#231f20">=</text>
<text transform="translate(1092.00,544.40) scale(0.9410,1)" x="-1.78" y="0" font-size="44.51" fill="#231f20" stroke="#231f20" stroke-width="0.14" vector-effect="non-scaling-stroke" stroke-linejoin="round">0</text>
<text transform="translate(1126.00,544.40) scale(0.9356,1)" x="-0.22" y="0" font-size="44.22" fill="#231f20" stroke="#231f20" stroke-width="0.16" vector-effect="non-scaling-stroke" stroke-linejoin="round">V</text>
<text transform="translate(1278.40,770.00) scale(0.7254,1)" x="-3.48" y="0" font-size="42.18" fill="#16a5d8" stroke="#16a5d8" stroke-width="0.60" vector-effect="non-scaling-stroke" stroke-linejoin="round">E</text>
<text transform="translate(1298.00,780.40) scale(1.0959,1)" x="-1.73" y="0" font-size="20.95" fill="#16a5d8">D</text>
<text transform="translate(1278.40,821.60) scale(0.7254,1)" x="-3.48" y="0" font-size="42.18" fill="#e0282c" stroke="#e0282c" stroke-width="0.60" vector-effect="non-scaling-stroke" stroke-linejoin="round">E</text>
<text transform="translate(1298.60,832.00) scale(0.8114,1)" x="-1.75" y="0" font-size="21.24" fill="#e0282c" stroke="#e0282c" stroke-width="0.22" vector-effect="non-scaling-stroke" stroke-linejoin="round">F</text>
<text transform="translate(1436.00,893.80) scale(0.9740,1)" x="-3.18" y="0" font-size="38.55" fill="#636bb7">Mid</text>
<text transform="translate(1503.50,895.00) scale(1.0324,1)" x="-2.11" y="0" font-size="42.14" fill="#636bb7" font-style="italic" class="ser" stroke="#636bb7" stroke-width="0.50" vector-effect="non-scaling-stroke" stroke-linejoin="round">Φ</text>
<rect x="1150" y="1136" width="82.0" height="213.6" fill="url(#ito3)"/>
<rect x="1272.2" y="991" width="56.8" height="358.8" fill="#fcc79d"/>
<polygon points="1429.6,1041.4 1559,940.3 1559,1195.9 1429.6,1296.7" fill="#97cd54"/>
<rect x="1561.2" y="981" width="90" height="248.7" fill="#7f7b7b"/>
<polygon points="1312.2,1287.4 1397.6,1287.4 1430.6,1350.6 1279,1350.6" fill="url(#cone3)"/>
<line x1="1322" x2="1393.6" y1="1205.4" y2="1205.4" stroke="#111" stroke-width="1.7" stroke-dasharray="1.5 1.05"/>
<line x1="1314" x2="1429" y1="1287.4" y2="1287.4" stroke="#000" stroke-width="2"/>
<path d="M1285,1073.5L1430.6,1351M1425.3,1073.5L1279,1351" stroke="#000" stroke-width="4.2" fill="none"/>
<line x1="1232" x2="1232" y1="991" y2="1350.6" stroke="#000" stroke-width="3.5"/>
<line x1="1270.6000000000001" x2="1270.6000000000001" y1="991" y2="1350.6" stroke="#000" stroke-width="3.5"/>
<line x1="1429" x2="1429" y1="974.7" y2="1350.6" stroke="#000" stroke-width="2.6"/>
<line x1="1429" x2="1481" y1="1287.2" y2="1287.2" stroke="#000" stroke-width="2.1" stroke-dasharray="2.4 1.8"/>
<polygon points="1500.8,1287.2 1481,1281.2 1481,1293.2" fill="#000"/>
<path d="M1444,1295.3V1306.8M1439.4,1299.5L1444,1294.5L1448.6,1299.5M1439.4,1302.6L1444,1307.6L1448.6,1302.6" fill="none" stroke="#8b1a1a" stroke-width="2.1" stroke-linejoin="miter"/>
<ellipse cx="1499" cy="1111" rx="14.7" ry="39" fill="#b4b0b0" stroke="#3f78b8" stroke-width="1.3"/>
<line x1="1499" x2="1499" y1="975.5" y2="1026.2" stroke="#000" stroke-width="2.1" stroke-dasharray="2.4 1.8"/>
<polygon points="1499,1045.2 1493.1,1026.2 1504.9,1026.2" fill="#000"/>
<line x1="1499" x2="1499" y1="1249.7" y2="1196.7" stroke="#000" stroke-width="2.1" stroke-dasharray="2.4 1.8"/>
<polygon points="1499,1178.2 1493,1196.7 1505,1196.7" fill="#000"/>
<circle cx="1499.2" cy="964.5" r="15.1" fill="#f1e32b" stroke="#44567f" stroke-width="2"/>
<line x1="1491.0" x2="1507.4" y1="965.5" y2="965.5" stroke="#000" stroke-width="2.3"/>
<circle cx="1498.8" cy="1061.8" r="15.1" fill="#f1e32b" stroke="#44567f" stroke-width="2"/>
<line x1="1490.6" x2="1507.0" y1="1062.8" y2="1062.8" stroke="#000" stroke-width="2.3"/>
<line x1="1573.5" x2="1516" y1="975.5" y2="975.5" stroke="#000" stroke-width="2.1" stroke-dasharray="2.4 1.8"/>
<polygon points="1497,975.5 1516,969.6 1516,981.4" fill="#000"/>
<line x1="1573.5" x2="1645" y1="975.5" y2="975.5" stroke="#000" stroke-width="2.6"/>
<circle cx="1498.8" cy="1160.3" r="15.2" fill="#3778b9" stroke="#4a5a80" stroke-width="1.6"/>
<path d="M1490.3,1160.9H1507.3M1498.8,1152.4V1169.4" stroke="#fff" stroke-width="2.5" fill="none"/>
<circle cx="1499.2" cy="1264.8" r="15.2" fill="#3778b9" stroke="#4a5a80" stroke-width="1.6"/>
<path d="M1490.7,1265.4H1507.7M1499.2,1256.9V1273.9" stroke="#fff" stroke-width="2.5" fill="none"/>
<path d="M1030.6,1110.5 L1137.6,1076.3 L1137.6,1092.2 L1470,1092.2 L1470,1129 L1137.6,1129 L1137.6,1144.7 Z M1056,1110.5 L1130,1086.6 L1130,1100 L1453.2,1100 L1453.2,1121.6 L1130,1121.6 L1130,1135 Z" fill="#e0282c" fill-rule="evenodd"/>
<polygon points="1514.9,1083.1 1513.0,1099.2 1526.9,1090.3 1520.6,1103.1 1539.0,1101.5 1521.6,1109.8 1526.0,1114.3 1518.9,1117.0 1529.2,1127.4 1514.1,1123.7 1515.1,1132.1 1507.0,1127.6 1504.3,1133.2 1498.9,1130.4 1494.5,1136.5 1489.7,1133.2 1482.1,1143.2 1482.6,1131.0 1469.6,1132.1 1477.7,1125.4 1465.8,1117.6 1480.4,1114.3 1469.6,1106.5 1483.7,1104.2 1480.4,1093.1 1493.5,1100.9 1497.8,1088.1 1503.2,1097.0" fill="#e0282c" stroke="#931a1d" stroke-width="1.8" stroke-linejoin="miter"/>
<text transform="translate(996.00,984.40) scale(0.9356,1)" x="-3.87" y="0" font-size="44.22" fill="#231f20" font-style="italic" stroke="#231f20" stroke-width="0.16" vector-effect="non-scaling-stroke" stroke-linejoin="round">V</text>
<text transform="translate(1014.60,993.70) scale(0.9462,1)" x="-1.19" y="0" font-size="23.80" fill="#231f20" stroke="#231f20" stroke-width="0.07" vector-effect="non-scaling-stroke" stroke-linejoin="round">GS</text>
<text transform="translate(1056.00,983.04) scale(1.0667,1)" x="-2.03" y="0" font-size="40.59" fill="#231f20">&lt;</text>
<text transform="translate(1092.00,984.40) scale(0.9410,1)" x="-1.78" y="0" font-size="44.51" fill="#231f20" stroke="#231f20" stroke-width="0.14" vector-effect="non-scaling-stroke" stroke-linejoin="round">0</text>
<text transform="translate(1126.00,984.40) scale(0.9356,1)" x="-0.22" y="0" font-size="44.22" fill="#231f20" stroke="#231f20" stroke-width="0.16" vector-effect="non-scaling-stroke" stroke-linejoin="round">V</text>
<text transform="translate(1278.40,1210.00) scale(0.7254,1)" x="-3.48" y="0" font-size="42.18" fill="#16a5d8" stroke="#16a5d8" stroke-width="0.60" vector-effect="non-scaling-stroke" stroke-linejoin="round">E</text>
<text transform="translate(1298.00,1220.40) scale(1.0959,1)" x="-1.73" y="0" font-size="20.95" fill="#16a5d8">D</text>
<text transform="translate(1278.40,1279.60) scale(0.7254,1)" x="-3.48" y="0" font-size="42.18" fill="#e0282c" stroke="#e0282c" stroke-width="0.60" vector-effect="non-scaling-stroke" stroke-linejoin="round">E</text>
<text transform="translate(1298.60,1290.00) scale(0.8114,1)" x="-1.75" y="0" font-size="21.24" fill="#e0282c" stroke="#e0282c" stroke-width="0.22" vector-effect="non-scaling-stroke" stroke-linejoin="round">F</text>
<text transform="translate(1436.40,1338.80) scale(0.9075,1)" x="-3.34" y="0" font-size="40.44" fill="#636bb7" stroke="#636bb7" stroke-width="0.21" vector-effect="non-scaling-stroke" stroke-linejoin="round">Low</text>
<text transform="translate(1511.40,1339.50) scale(1.0267,1)" x="-2.18" y="0" font-size="43.51" fill="#636bb7" font-style="italic" class="ser" stroke="#636bb7" stroke-width="0.50" vector-effect="non-scaling-stroke" stroke-linejoin="round">Φ</text>
</g>
</svg>
</body>
</html>
